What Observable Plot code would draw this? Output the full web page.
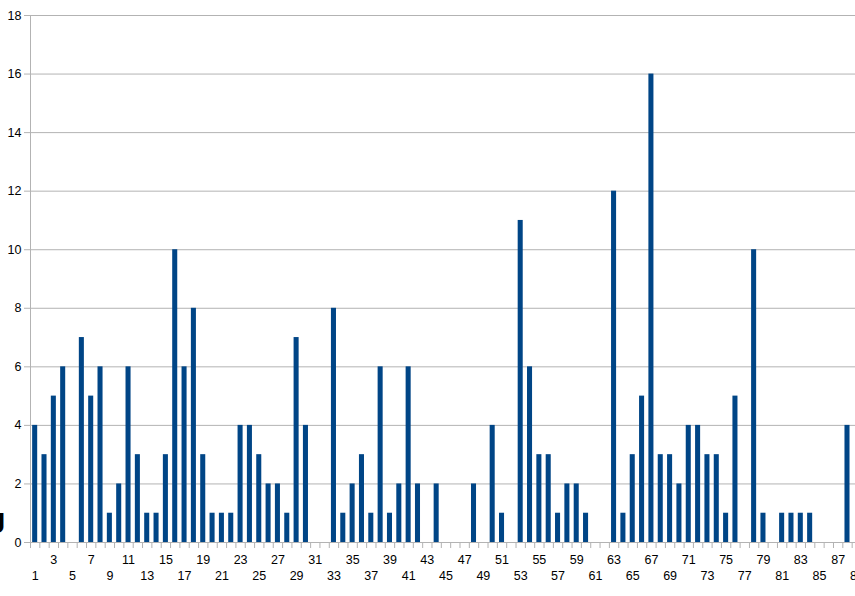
<!DOCTYPE html>
<html><head><meta charset="utf-8">
<script src="https://cdn.jsdelivr.net/npm/d3@7"></script>
<script src="https://cdn.jsdelivr.net/npm/@observablehq/plot@0.6"></script>
<style>html,body{margin:0;padding:0;overflow:hidden;background:#fff}</style>
</head><body><div id="chart"></div>
<script>
const categories = [1,2,3,4,5,6,7,8,9,10,11,12,13,14,15,16,17,18,19,20,21,22,23,24,25,26,27,28,29,30,
  31,32,33,34,35,36,37,38,39,40,41,42,43,44,45,46,47,48,49,50,51,52,53,54,55,56,57,58,59,60,
  61,62,63,64,65,66,67,68,69,70,71,72,73,74,75,76,77,78,79,80,81,82,83,84,85,86,87,88,89];
const values = [4,3,5,6,0,7,5,6,1,2,6,3,1,1,3,10,6,8,3,1,1,1,4,4,3,2,2,1,7,4,
  0,0,8,1,2,3,1,6,1,2,6,2,0,2,0,0,0,2,0,4,1,0,11,6,3,3,1,2,2,1,
  0,0,12,1,3,5,16,3,3,2,4,4,3,3,1,5,0,10,1,0,1,1,1,1,0,0,0,4,0];
const yTicks = [0,2,4,6,8,10,12,14,16,18];
const upperLabels = [3,7,11,15,19,23,27,31,35,39,43,47,51,55,59,63,67,71,75,79,83,87];
const lowerLabels = [1,5,9,13,17,21,25,29,33,37,41,45,49,53,57,61,65,69,73,77,81,85,89];

const data = categories.map((c, i) => ({c, v: values[i]}));
const boundaries = categories.map(c => c - 0.5).concat([categories[categories.length - 1] + 0.5]);
const grid = "#b3b3b3";
const fs = 12.5;

const chart = Plot.plot({
  width: 861, height: 596,
  marginLeft: 30, marginRight: 0, marginTop: 15, marginBottom: 54,
  x: {type: "linear", domain: [0.5, 89.5]},
  y: {domain: [0, 18]},
  style: {fontFamily: "'Liberation Sans', Arial, sans-serif", fontSize: "12.5px", color: "#000", background: "#fff", overflow: "visible", maxWidth: "none", width: "861px", height: "596px"},
  marks: [
    Plot.ruleY(yTicks, {stroke: grid, strokeWidth: 1}),
    Plot.ruleX([0.5], {stroke: grid}),
    Plot.axisY({ticks: yTicks, tickSize: 6, tickPadding: 3, stroke: grid, fill: "#000", fontSize: fs, label: null}),
    Plot.axisX({ticks: boundaries, tickSize: 6, tickFormat: () => "", stroke: grid, label: null}),
    Plot.axisX({ticks: upperLabels, tickSize: 0, tickPadding: 13, fill: "#000", fontSize: fs, label: null}),
    Plot.axisX({ticks: lowerLabels, tickSize: 0, tickPadding: 29, fill: "#000", fontSize: fs, label: null}),
    Plot.rectY(data, {x1: d => d.c - 0.27, x2: d => d.c + 0.27, y: "v", fill: "#004586"}),
    Plot.text(["J"], {x: 0.5, y: 0, dx: -25, dy: -10, textAnchor: "end", lineAnchor: "bottom", fontSize: 30, fontWeight: "bold", fill: "#000"})
  ]
});
document.getElementById("chart").appendChild(chart);
</script>
</body></html>
